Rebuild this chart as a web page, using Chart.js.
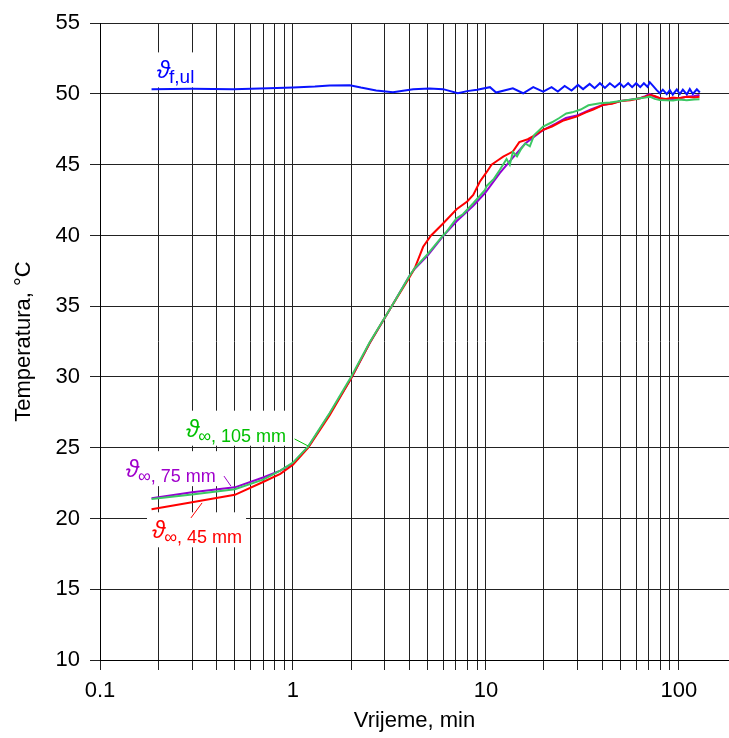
<!DOCTYPE html>
<html lang="hr">
<head>
  <meta charset="UTF-8">
  <title>Temperatura</title>
  <script src="https://cdn.jsdelivr.net/npm/chart.js"></script>
  <style>
    body { margin: 0; background: #fff; }
  </style>
</head>
<body>
  <canvas id="tempChart" width="729" height="738"></canvas>

  <script>
    // x ticks (log axis) - gridlines on every one, labels only on decades
    const xTickValues = [0.1, 0.2, 0.3, 0.4, 0.5, 0.6, 0.7, 0.8, 0.9,
      1, 2, 3, 4, 5, 6, 7, 8, 9,
      10, 20, 30, 40, 50, 60, 70, 80, 90, 100];
    const xTickLabels = ['0.1', '', '', '', '', '', '', '', '',
      '1', '', '', '', '', '', '', '', '',
      '10', '', '', '', '', '', '', '', '', '100'];

    // ulazna temperatura fluida
    const fulTime = [0.185, 0.3, 0.49, 0.75, 1.0, 1.3, 1.55, 1.97, 2.25, 2.7, 3.3, 3.8, 4.2, 5.1, 6.0, 7.16, 8.0, 9.0,
      10.5, 11.3, 13.8, 15.6, 17.6, 19.8, 21.9, 23.6, 25.6, 27.8, 30.0, 31.9, 34.5, 36.6, 39.0, 41.4, 43.9, 46.6,
      49.4, 51.8, 54.6, 57.3, 60.1, 63.1, 65.9, 68.8, 70.7, 73.5, 76.6, 79.7,
      82.6, 86.6, 89.8, 93.0, 97.6, 101.2, 104.9, 110.0, 114.0, 118.2, 124.0, 128.5];
    const fulTemp = [50.34, 50.36, 50.33, 50.4, 50.45, 50.52, 50.6, 50.62, 50.45, 50.25, 50.12, 50.25, 50.34, 50.38, 50.34, 50.05, 50.2, 50.3,
      50.48, 50.1, 50.4, 50.05, 50.48, 50.17, 50.48, 50.17, 50.57, 50.24, 50.64, 50.34, 50.71, 50.41, 50.76, 50.43, 50.76, 50.48,
      50.76, 50.48, 50.76, 50.48, 50.76, 50.48, 50.76, 50.5, 50.83, 50.57, 50.29, 50.05,
      50.3, 49.98, 50.28, 49.95, 50.32, 50.0, 50.3, 49.97, 50.35, 50.0, 50.33, 50.1];

    // 45 mm
    const t45Time = [0.185, 0.3, 0.5, 0.7, 0.86, 1.0, 1.2, 1.55, 2.0, 2.5, 3.25, 4.0, 4.28, 4.73, 5.2, 6.0, 7.05, 8.0, 8.6, 9.3,
      10.0, 10.7, 11.5, 12.3, 13.8, 14.9, 16.5, 18.0, 19.8, 22.0, 25.0, 29.5, 33.0, 36.0, 40.6, 45.0, 50.0, 56.0, 62.9,
      67.0, 70.7, 75.0, 79.7, 86.0, 93.0, 100.0, 110.0, 120.0, 128.0];
    const t45Temp = [20.65, 21.15, 21.67, 22.58, 23.15, 23.8, 25.0, 27.3, 29.9, 32.4, 35.0, 37.0, 37.7, 39.2, 40.0, 40.85, 41.85, 42.4, 42.87, 43.8,
      44.4, 45.0, 45.3, 45.57, 45.93, 46.6, 46.8, 47.1, 47.46, 47.7, 48.1, 48.4, 48.7, 48.9, 49.23, 49.3, 49.5, 49.55, 49.7,
      49.8, 49.93, 49.85, 49.7, 49.65, 49.75, 49.7, 49.8, 49.75, 49.81];

    // 75 mm
    const t75Time = [0.185, 0.3, 0.5, 0.7, 0.86, 1.0, 1.2, 1.55, 2.0, 2.5, 3.25, 4.0, 4.28, 5.0, 6.0, 7.05, 8.6, 9.9,
      11.8, 13.8, 16.0, 19.8, 23.0, 26.0, 30.0, 35.0, 40.0, 45.0, 50.0, 56.0, 63.0, 67.0, 70.7, 75.0, 80.0, 86.0,
      93.0, 100.0, 110.0, 120.0, 128.0];
    const t75Temp = [21.43, 21.85, 22.2, 22.9, 23.38, 23.9, 25.05, 27.4, 29.9, 32.4, 35.0, 37.1, 37.65, 38.6, 39.95, 41.0, 42.1, 43.0,
      44.4, 45.5, 46.5, 47.45, 47.9, 48.3, 48.5, 48.9, 49.2, 49.35, 49.5, 49.6, 49.7, 49.85, 50.0, 49.8, 49.7, 49.6,
      49.65, 49.7, 49.8, 49.85, 49.93];

    // 105 mm
    const t105Time = [0.185, 0.3, 0.5, 0.7, 0.86, 1.0, 1.2, 1.55, 2.0, 2.5, 3.25, 4.0, 4.28, 5.0, 6.0, 6.26, 7.05, 7.6, 8.6, 9.9,
      10.1, 11.0, 11.8, 12.8, 13.3, 13.8, 14.5, 15.2, 16.0, 16.9, 17.8, 19.8, 22.0, 24.0, 26.1, 28.0, 31.0, 34.0, 39.0,
      44.0, 50.0, 56.0, 63.0, 67.0, 70.7, 75.0, 79.7, 86.0, 93.5, 100.0, 110.0, 120.0, 128.0];
    const t105Temp = [21.38, 21.7, 22.07, 22.75, 23.38, 23.95, 25.1, 27.45, 30.0, 32.45, 35.0, 37.1, 37.7, 38.7, 40.0, 40.27, 41.22, 41.5, 42.28, 43.22,
      43.5, 44.0, 44.63, 45.4, 45.0, 45.9, 45.6, 46.1, 46.5, 46.3, 47.1, 47.7, 48.0, 48.3, 48.62, 48.7, 48.9, 49.2, 49.35,
      49.4, 49.5, 49.6, 49.7, 49.75, 49.81, 49.65, 49.58, 49.55, 49.53, 49.6, 49.55, 49.6, 49.62];

    // natpisi krivulja (položaj u jedinicama osi)
    const curveLabels = [
      { sub: 'f,ul', t: 0.197, temp: 51.1, color: '#0000FF', subSize: 19 },
      { sub: '\u221E, 105 mm', t: 0.279, temp: 25.78, color: '#00C000', subSize: 18 },
      { sub: '\u221E, 75 mm', t: 0.136, temp: 22.92, color: '#A000CC', subSize: 18 },
      { sub: '\u221E, 45 mm', t: 0.186, temp: 18.6, color: '#FF0000', subSize: 18 }
    ];
    // kratke crte od natpisa do krivulje
    const leaders = [
      { from: [1.02, 25.62], to: [1.196, 25.13], color: '#00C000' },
      { from: [0.439, 23.0], to: [0.477, 22.29], color: '#A000CC' },
      { from: [0.296, 20.04], to: [0.338, 21.1], color: '#FF0000' }
    ];

    const toPoints = (xs, ys) => xs.map((x, i) => ({ x: x, y: ys[i] }));

    const FONT = '"Liberation Sans", Arial, sans-serif';
    const symFont = 'italic 24px ' + FONT;

    function labelParts(ctx, lab, chart) {
      const x = chart.scales.x.getPixelForValue(lab.t);
      const y = chart.scales.y.getPixelForValue(lab.temp);
      ctx.font = symFont;
      const w1 = ctx.measureText('\u03D1').width;
      ctx.font = lab.subSize + 'px ' + FONT;
      const w2 = ctx.measureText(lab.sub).width;
      return { x, y, w1, w2 };
    }

    const labelPlugin = {
      id: 'curveLabels',
      beforeDatasetsDraw(chart) {
        const ctx = chart.ctx;
        ctx.save();
        ctx.fillStyle = '#fff';
        curveLabels.forEach(lab => {
          const p = labelParts(ctx, lab, chart);
          ctx.fillRect(p.x - 5, p.y - 26, p.w1 + p.w2 + 8, 35);
        });
        ctx.restore();
      },
      afterDatasetsDraw(chart) {
        const ctx = chart.ctx;
        ctx.save();
        ctx.textBaseline = 'alphabetic';
        ctx.textAlign = 'left';
        curveLabels.forEach(lab => {
          const p = labelParts(ctx, lab, chart);
          ctx.fillStyle = lab.color;
          ctx.font = symFont;
          ctx.fillText('\u03D1', p.x, p.y);
          ctx.font = lab.subSize + 'px ' + FONT;
          ctx.fillText(lab.sub, p.x + p.w1 - 1, p.y + 5);
        });
        leaders.forEach(l => {
          ctx.strokeStyle = l.color;
          ctx.lineWidth = 1;
          ctx.beginPath();
          ctx.moveTo(chart.scales.x.getPixelForValue(l.from[0]), chart.scales.y.getPixelForValue(l.from[1]));
          ctx.lineTo(chart.scales.x.getPixelForValue(l.to[0]), chart.scales.y.getPixelForValue(l.to[1]));
          ctx.stroke();
        });
        ctx.restore();
      }
    };

    const lineStyle = { borderWidth: 2, pointRadius: 0, tension: 0, fill: false };

    new Chart(document.getElementById('tempChart').getContext('2d'), {
      type: 'line',
      data: {
        datasets: [
          { ...lineStyle, label: '105 mm', data: toPoints(t105Time, t105Temp), borderColor: '#3CC864', order: 0 },
          { ...lineStyle, label: '45 mm', data: toPoints(t45Time, t45Temp), borderColor: '#FF0000', order: 1 },
          { ...lineStyle, label: '75 mm', data: toPoints(t75Time, t75Temp), borderColor: '#9400D3', order: 2 },
          { ...lineStyle, label: 'f,ul', data: toPoints(fulTime, fulTemp), borderColor: '#0A14FF', order: 3 }
        ]
      },
      options: {
        responsive: false,
        animation: false,
        layout: { padding: { top: 23, right: 0, bottom: 0, left: 0 } },
        plugins: {
          legend: { display: false },
          tooltip: { enabled: false }
        },
        scales: {
          x: {
            type: 'logarithmic',
            min: 0.1,
            max: 182,
            afterBuildTicks: (scale) => { scale.ticks = xTickValues.map(v => ({ value: v })); },
            afterFit: (scale) => { scale.height = 78; },
            ticks: {
              autoSkip: false,
              maxRotation: 0,
              color: '#000',
              padding: 8,
              font: { family: FONT, size: 22 },
              callback: (v, i) => xTickLabels[i]
            },
            grid: { color: '#222', lineWidth: 1, tickLength: 10 },
            border: { color: '#000', width: 1 },
            title: {
              display: true, text: 'Vrijeme, min', color: '#000',
              font: { family: FONT, size: 22 }, padding: { top: 0, bottom: 4 }
            }
          },
          y: {
            min: 10,
            max: 55,
            afterFit: (scale) => { scale.width = 100; },
            ticks: {
              stepSize: 5,
              color: '#000',
              padding: 10,
              font: { family: FONT, size: 22 }
            },
            grid: { color: '#222', lineWidth: 1, tickLength: 10 },
            border: { color: '#000', width: 1 },
            title: {
              display: true, text: 'Temperatura, \u00B0C', color: '#000',
              font: { family: FONT, size: 22 }, padding: { top: 11, bottom: 0 }
            }
          }
        }
      },
      plugins: [labelPlugin]
    });
  </script>
</body>
</html>
